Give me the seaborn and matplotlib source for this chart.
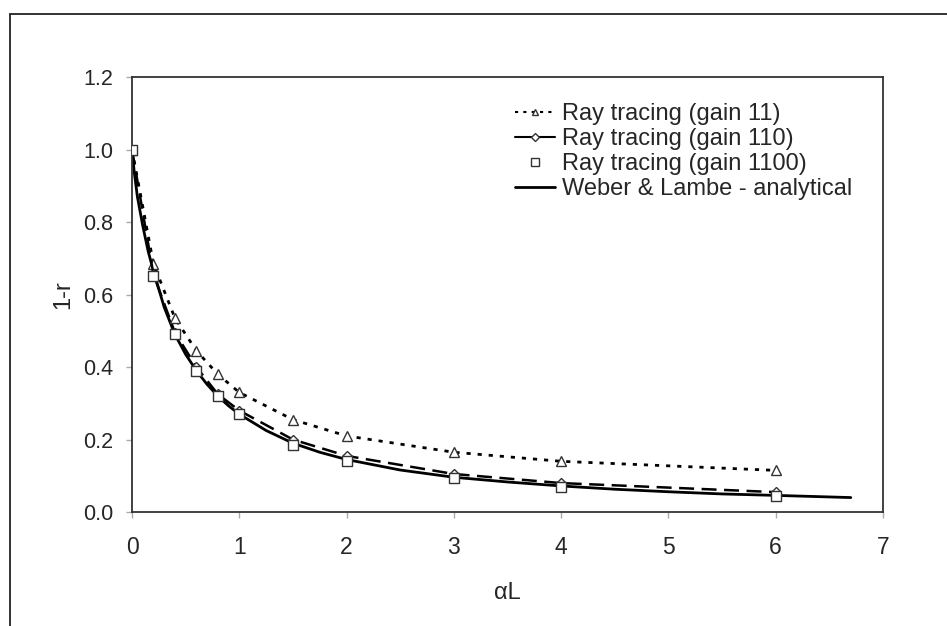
import numpy as np
import pandas as pd
import matplotlib.pyplot as plt
import matplotlib.patches as mpatches
from matplotlib.lines import Line2D
import seaborn as sns

# ray tracing samples
alpha_L = [0, 0.2, 0.4, 0.6, 0.8, 1.0, 1.5, 2, 3, 4, 6]
gain_11 = [1.0, 0.685, 0.535, 0.445, 0.38, 0.33, 0.255, 0.21, 0.165, 0.14, 0.115]
gain_110 = [1.0, 0.655, 0.495, 0.40, 0.325, 0.28, 0.20, 0.155, 0.105, 0.08, 0.055]
gain_1100 = [1.0, 0.65, 0.49, 0.39, 0.32, 0.27, 0.185, 0.14, 0.095, 0.07, 0.045]

# Weber & Lambe analytical curve
wl_x = [0, 0.02, 0.05, 0.1, 0.15, 0.2, 0.3, 0.4, 0.5, 0.6, 0.7, 0.8, 0.9, 1.0,
        1.25, 1.5, 1.75, 2, 2.5, 3, 3.5, 4, 4.5, 5, 5.5, 6, 6.7]
wl_y = [1.0, 0.94, 0.87, 0.79, 0.72, 0.665, 0.565, 0.49, 0.435, 0.39, 0.352,
        0.32, 0.293, 0.27, 0.225, 0.19, 0.165, 0.145, 0.116, 0.096, 0.083,
        0.072, 0.063, 0.056, 0.05, 0.046, 0.04]

legend_labels = ["Ray tracing (gain 11)", "Ray tracing (gain 110)",
                 "Ray tracing (gain 1100)", "Weber & Lambe - analytical"]

sns.set_style("ticks")
plt.rcParams['font.family'] = ['Liberation Sans', 'DejaVu Sans']

fig = plt.figure(figsize=(9.47, 6.26), dpi=100)
ax = fig.add_axes([0.1394, 0.182, 0.793, 0.695])

df = pd.DataFrame({'x': alpha_L, 'g11': gain_11, 'g110': gain_110, 'g1100': gain_1100})
df_wl = pd.DataFrame({'x': wl_x, 'y': wl_y})

sns.lineplot(data=df_wl, x='x', y='y', color='black', lw=2, ax=ax)
sns.lineplot(data=df, x='x', y='g11', color='black', lw=2, ax=ax,
             linestyle=(0, (1.5, 2.5)), marker='^', markersize=7,
             markerfacecolor='white', markeredgecolor='#333333', markeredgewidth=1)
sns.lineplot(data=df, x='x', y='g110', color='black', lw=1.8, ax=ax,
             linestyle=(0, (6, 3)), marker='D', markersize=5.5,
             markerfacecolor='white', markeredgecolor='#333333', markeredgewidth=1)
sns.scatterplot(data=df, x='x', y='g1100', marker='s', s=60, facecolor='white',
                edgecolor='#333333', linewidth=1, ax=ax, zorder=3)

ax.set_xlim(0, 7)
ax.set_ylim(0, 1.2)
ax.set_xticks(range(0, 8))
yt = np.arange(0, 1.21, 0.2)
ax.set_yticks(yt)
ax.set_yticklabels([f"{v:.1f}" for v in yt])
ax.tick_params(length=4.5, color='#aaaaaa', width=1)
ax.tick_params(axis='x', labelsize=16.5, pad=13)
ax.tick_params(axis='y', labelsize=15.5, pad=9)
for s in ax.spines.values():
    s.set_visible(True)
    s.set_color('#333333')
    s.set_linewidth(1.3)
ax.set_xlabel("αL", fontsize=17, labelpad=16)
ax.set_ylabel("1-r", fontsize=17, labelpad=6)

handles = [
    Line2D([], [], color='black', lw=1.5, linestyle=(0, (1.5, 2.5)), marker='^',
           markersize=5, markerfacecolor='white', markeredgecolor='#333333'),
    Line2D([], [], color='black', lw=1.5, marker='D', markersize=4,
           markerfacecolor='white', markeredgecolor='#333333'),
    Line2D([], [], color='black', lw=0, marker='s', markersize=6,
           markerfacecolor='white', markeredgecolor='#333333'),
    Line2D([], [], color='black', lw=2),
]
ax.legend(handles, legend_labels, frameon=False, fontsize=17, loc='upper left',
          bbox_to_anchor=(0.51, 0.94), borderpad=0, borderaxespad=0,
          handlelength=1.7, handletextpad=0.3, labelspacing=0.13)

fig.patches.append(mpatches.Rectangle((10 / 947, -0.05), 1.1, 1 - 14 / 626 + 0.05,
                                      transform=fig.transFigure, fill=False,
                                      edgecolor='#222222', lw=1.3))

fig.savefig('out.png', dpi=100)
